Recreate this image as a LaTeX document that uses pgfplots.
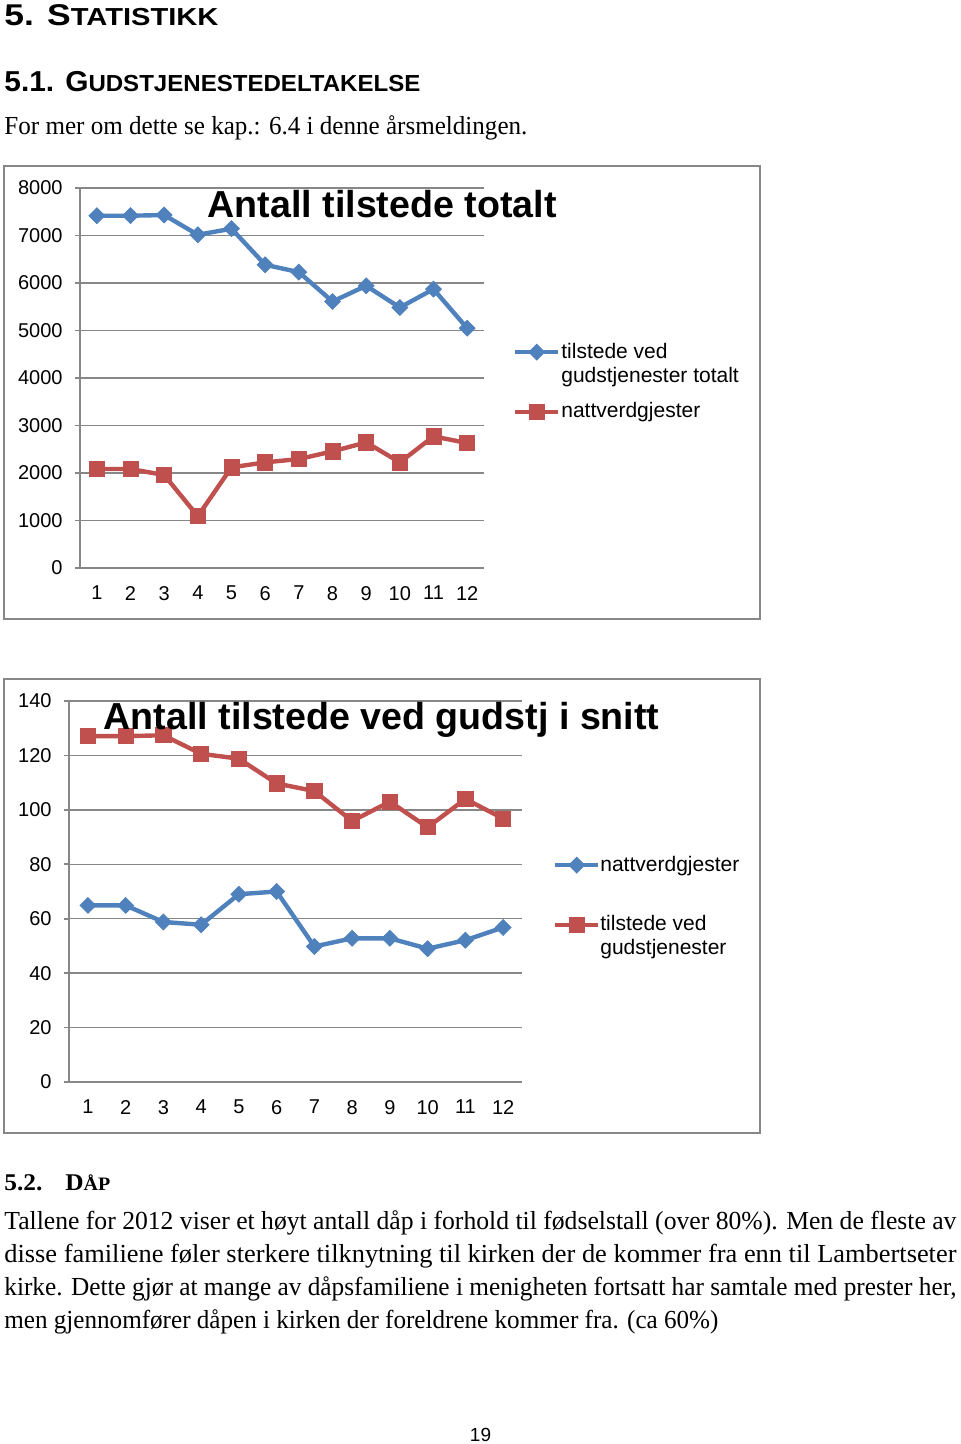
\documentclass[border=0pt]{standalone}
\usepackage{pgfplots}
\pgfplotsset{compat=1.18}
\usepackage{fontspec}
\usepackage{graphicx}
\setmainfont{Liberation Serif}
\newfontfamily\arial{Liberation Sans}
\definecolor{xblue}{HTML}{4F81BD}
\definecolor{xred}{HTML}{C0504D}
\definecolor{xgray}{HTML}{878787}
\newcommand{\W}[2]{\resizebox{#1}{\height}{#2}}

\pgfplotsset{
  excel/.style={
    scale only axis,
    xmin=0.5, xmax=12.5, ymin=0,
    axis x line*=bottom, axis y line*=left,
    axis line style={xgray, line width=0.8pt},
    xtick={1,...,12}, minor xtick={0.5,1.5,...,12.5},
    ymajorgrids, grid style={xgray, line width=0.7pt},
    tick align=outside,
    major tick length=2.5pt, minor tick length=3pt,
    xtick style={draw=none},
    minor x tick style={xgray, line width=0.8pt},
    ytick style={xgray, line width=0.8pt},
    ticklabel style={font=\arial\fontsize{10}{12}\selectfont},
    /pgf/number format/assume math mode=true,
    /pgf/number format/1000 sep={},
    scaled y ticks=false,
    yticklabel style={xshift=-2.7pt},
    xticklabel style={yshift=-3pt},
    legend cell align=left,
    legend image code/.code={\draw[mark repeat=2,mark phase=2] plot coordinates {(0pt,0pt)(10.75pt,0pt)(21.5pt,0pt)};},
    every axis title shift=0pt,
    title style={anchor=base, inner sep=0pt, font=\arial\bfseries\fontsize{18.8}{22}\selectfont},
  },
  bser/.style={xblue, line width=2.2pt, mark=square*, mark size=2.8pt, mark options={solid, rotate=45, line width=0.4pt}},
  rser/.style={xred, line width=2.2pt, mark=square*, mark size=3.8pt, mark options={solid, line width=0.4pt}},
}

\begin{document}
\begin{tikzpicture}
\path[use as bounding box] (0,0) rectangle (480pt,-722pt);
\begin{scope}[x=0.5pt,y=-0.5pt]
\node[anchor=base west, inner sep=0pt] at (4,25.7) {\W{107pt}{\arial\bfseries\fontsize{15}{18}\selectfont 5. S\fontsize{12.3}{14}\selectfont TATISTIKK}};
\node[anchor=base west, inner sep=0pt] at (4,91.7) {\W{208pt}{\arial\bfseries\fontsize{14.4}{17}\selectfont 5.1. G\fontsize{11.6}{14}\selectfont UDSTJENESTEDELTAKELSE}};
\node[anchor=base west, inner sep=0pt] at (4,134.5) {\W{261.5pt}{\fontsize{13}{16}\selectfont For mer om dette se kap.: 6.4 i denne årsmeldingen.}};
\draw[xgray, line width=1pt] (4,166) rectangle (760,619);
\draw[xgray, line width=1pt] (4,679) rectangle (760,1133);
\node[anchor=base west, inner sep=0pt] at (4,1190) {\W{19pt}{\bfseries\fontsize{12}{14}\selectfont 5.2.}};
\node[anchor=base west, inner sep=0pt] at (65,1190) {\W{22.5pt}{\bfseries\fontsize{12}{14}\selectfont D\fontsize{9.5}{12}\selectfont ÅP}};
\node[anchor=base west, inner sep=0pt] at (4,1229.5) {\W{476pt}{\fontsize{13}{16}\selectfont Tallene for 2012 viser et høyt antall dåp i forhold til fødselstall (over 80\%). Men de fleste av}};
\node[anchor=base west, inner sep=0pt] at (4,1262.5) {\W{476pt}{\fontsize{13}{16}\selectfont disse familiene føler sterkere tilknytning til kirken der de kommer fra enn til Lambertseter}};
\node[anchor=base west, inner sep=0pt] at (4,1295.5) {\W{476pt}{\fontsize{13}{16}\selectfont kirke. Dette gjør at mange av dåpsfamiliene i menigheten fortsatt har samtale med prester her,}};
\node[anchor=base west, inner sep=0pt] at (4,1328.5) {\W{357pt}{\fontsize{13}{16}\selectfont men gjennomfører dåpen i kirken der foreldrene kommer fra. (ca 60\%)}};
\node[anchor=base, inner sep=0pt] at (480.5,1441.5) {\arial\fontsize{9.5}{11}\selectfont 19};
\end{scope}

\begin{axis}[excel,
  at={(40pt,-284pt)}, anchor=south west,
  width=202pt, height=190pt,
  ymax=8000, ytick={0,1000,...,8000},
  title={Antall tilstede totalt},
  title style={at={(0.748,0.923)}},
  legend style={at={(1.0717,0.6026)}, anchor=north west, draw=none, fill=none, inner sep=0pt, outer sep=0pt, row sep=4.7pt,
    font=\arial\fontsize{10.5}{12}\selectfont, cells={align=left},
    /tikz/every odd column/.append style={column sep=-1.5pt}},
]
\addplot[bser, legend image post style={yshift=6pt}] coordinates {(1,7417) (2,7417) (3,7431) (4,7016) (5,7143) (6,6384) (7,6229) (8,5611) (9,5941) (10,5484) (11,5871) (12,5049)};
\addlegendentry{tilstede ved\\gudstjenester totalt}
\addplot[rser] coordinates {(1,2084) (2,2084) (3,1958) (4,1091) (5,2119) (6,2224) (7,2294) (8,2455) (9,2645) (10,2224) (11,2771) (12,2631)};
\addlegendentry{nattverdgjester}
\end{axis}

\begin{axis}[excel,
  at={(34.5pt,-541pt)}, anchor=south west,
  width=226.5pt, height=190.5pt,
  ymax=140, ytick={0,20,...,140},
  title={Antall tilstede ved gudstj i snitt},
  title style={at={(0.690,0.924)}},
  legend style={at={(1.0684,0.6037)}, anchor=north west, draw=none, fill=none, inner sep=0pt, outer sep=0pt, row sep=16.7pt,
    font=\arial\fontsize{10.5}{12}\selectfont, cells={align=left},
    /tikz/every odd column/.append style={column sep=-2pt}},
]
\addplot[bser] coordinates {(1,64.9) (2,64.9) (3,58.8) (4,57.8) (5,69.0) (6,70.0) (7,49.8) (8,52.8) (9,52.8) (10,49.0) (11,52.1) (12,56.8)};
\addlegendentry{nattverdgjester}
\addplot[rser, legend image post style={yshift=6pt}] coordinates {(1,127.1) (2,127.1) (3,127.4) (4,120.6) (5,118.8) (6,109.7) (7,106.9) (8,95.9) (9,103.0) (10,93.6) (11,104.0) (12,96.8)};
\addlegendentry{tilstede ved\\gudstjenester}
\end{axis}
\end{tikzpicture}
\end{document}
